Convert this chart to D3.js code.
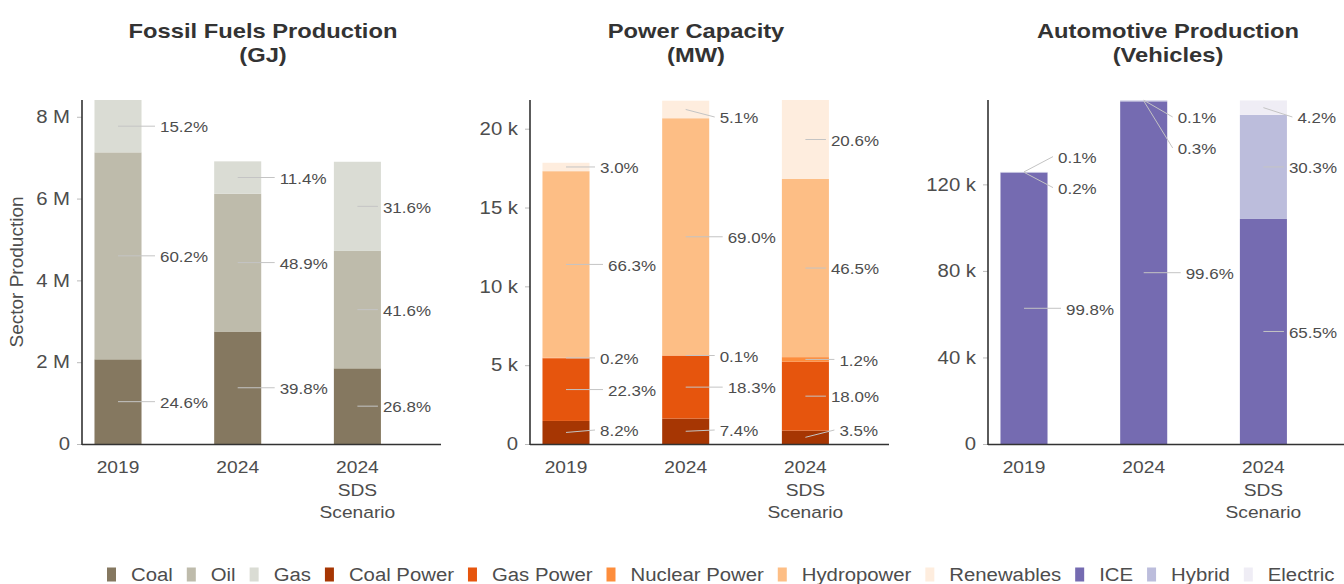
<!DOCTYPE html>
<html><head><meta charset="utf-8">
<script src="https://cdn.jsdelivr.net/npm/d3@7"></script>
<style>
body{margin:0;background:#fff;}
svg text{font-family:"Liberation Sans", Arial, Helvetica, sans-serif;}
</style></head><body>
<svg id="chart" width="1344" height="584"></svg>
<script>
// ---------- DATA ----------
const categories = ["2019", "2024", "2024 SDS"];
const categoryLines = [["2019"], ["2024"], ["2024", "SDS", "Scenario"]];

// Fossil fuels production (GJ)
const fossilSeries = ["Coal", "Oil", "Gas"];
const fossilCoal = [2070000, 2750000, 1850000];
const fossilOil  = [5060000, 3370000, 2870000];
const fossilGas  = [1280000,  790000, 2180000];
const fossilCoalPct = ["24.6%", "39.8%", "26.8%"];
const fossilOilPct  = ["60.2%", "48.9%", "41.6%"];
const fossilGasPct  = ["15.2%", "11.4%", "31.6%"];
const fossilTicks = [0, 2000000, 4000000, 6000000, 8000000];
const fossilTickLabels = ["0", "2 M", "4 M", "6 M", "8 M"];

// Power capacity (MW)
const powerSeries = ["Coal Power", "Gas Power", "Nuclear Power", "Hydropower", "Renewables"];
const powerCoal    = [1463, 1613, 850];
const powerGas     = [3978, 3989, 4370];
const powerNuclear = [36, 22, 290];
const powerHydro   = [11828, 15040, 11300];
const powerRenew   = [535, 1112, 5010];
const powerCoalPct    = ["8.2%", "7.4%", "3.5%"];
const powerGasPct     = ["22.3%", "18.3%", "18.0%"];
const powerNuclearPct = ["0.2%", "0.1%", "1.2%"];
const powerHydroPct   = ["66.3%", "69.0%", "46.5%"];
const powerRenewPct   = ["3.0%", "5.1%", "20.6%"];
const powerTicks = [0, 5000, 10000, 15000, 20000];
const powerTickLabels = ["0", "5 k", "10 k", "15 k", "20 k"];

// Automotive production (vehicles)
const autoSeries = ["ICE", "Hybrid", "Electric"];
const autoICE      = [125450, 158360, 104010];
const autoHybrid   = [250, 477, 48120];
const autoElectric = [126, 159, 6670];
const autoICEPct      = ["99.8%", "99.6%", "65.5%"];
const autoHybridPct   = ["0.2%", "0.3%", "30.3%"];
const autoElectricPct = ["0.1%", "0.1%", "4.2%"];
const autoTicks = [0, 40000, 80000, 120000];
const autoTickLabels = ["0", "40 k", "80 k", "120 k"];

const titles = [["Fossil Fuels Production", "(GJ)"], ["Power Capacity", "(MW)"], ["Automotive Production", "(Vehicles)"]];

const fossilColors = ["#857860", "#bebbab", "#dadcd4"];
const powerColors  = ["#a63603", "#e6550d", "#fd8d3c", "#fdbe85", "#feedde"];
const autoColors   = ["#756bb1", "#bcbddc", "#efedf5"];

// ---------- LAYOUT ----------
const SX = 1.13;              // horizontal text stretch
const TOP = 100, BOTTOM = 444, PW = 359;
const panelLeft = [82, 530, 988];
const titleX = [263, 696, 1168];
const TEXT = "#4d4d4d";

const svg = d3.select("#chart");

const panels = [
  {series: fossilSeries, values: [fossilCoal, fossilOil, fossilGas],
   pcts: [fossilCoalPct, fossilOilPct, fossilGasPct], colors: fossilColors,
   ticks: fossilTicks, tickLabels: fossilTickLabels},
  {series: powerSeries, values: [powerCoal, powerGas, powerNuclear, powerHydro, powerRenew],
   pcts: [powerCoalPct, powerGasPct, powerNuclearPct, powerHydroPct, powerRenewPct], colors: powerColors,
   ticks: powerTicks, tickLabels: powerTickLabels},
  {series: autoSeries, values: [autoICE, autoHybrid, autoElectric],
   pcts: [autoICEPct, autoHybridPct, autoElectricPct], colors: autoColors,
   ticks: autoTicks, tickLabels: autoTickLabels}
];

function stext(g, x, y, str, opts) {
  const t = g.append("text")
    .attr("transform", `translate(${x},${y}) scale(${SX},1)`)
    .attr("text-anchor", opts.anchor || "start")
    .attr("font-size", opts.size)
    .attr("font-weight", opts.weight || "normal")
    .attr("fill", opts.fill || TEXT)
    .text(str);
  if (opts.dy) t.attr("dy", opts.dy);
  return t;
}

function repel(items, gap, lo, hi) {
  items.sort((a, b) => a.ty - b.ty);
  items.forEach(d => d.y = Math.max(lo, Math.min(hi, d.ty)));
  for (let it = 0; it < 400; it++) {
    for (let i = 0; i < items.length - 1; i++) {
      const a = items[i], b = items[i + 1];
      const ov = gap - (b.y - a.y);
      if (ov > 0) { a.y -= ov / 2; b.y += ov / 2; }
    }
    items.forEach(d => d.y = Math.max(lo, Math.min(hi, d.y)));
  }
}

panels.forEach((p, pi) => {
  const L = panelLeft[pi];
  const g = svg.append("g");

  const rows = categories.map((c, ci) => {
    const r = {cat: c};
    p.series.forEach((s, si) => r[s] = p.values[si][ci]);
    return r;
  });
  const stacked = d3.stack().keys(p.series)(rows);
  const totals = rows.map(r => d3.sum(p.series, s => r[s]));

  const x = d3.scaleBand().domain(categories)
    .range([L - 23.85, L - 23.85 + 359.1]).paddingInner(0.607).paddingOuter(0.3035);
  const y = d3.scaleLinear().domain([0, d3.max(totals)]).range([BOTTOM, TOP]);

  // title
  titles[pi].forEach((line, li) =>
    stext(g, titleX[pi], 38 + li * 24, line, {anchor: "middle", size: 21, weight: "bold", fill: "#333"}));

  // y axis ticks
  const ax = g.append("g").attr("transform", `translate(${L},0)`)
    .call(d3.axisLeft(y).tickValues(p.ticks).tickFormat((d, i) => p.tickLabels[i]).tickSize(5).tickPadding(5.6));
  ax.select(".domain").remove();
  ax.selectAll(".tick line").attr("stroke", "#bbb");
  ax.selectAll(".tick text").attr("font-size", 18).attr("fill", TEXT)
    .attr("font-family", "Liberation Sans, Arial, sans-serif")
    .attr("transform", `scale(${SX},1)`);

  // bars
  stacked.forEach((layer, si) => {
    g.append("g").selectAll("rect").data(layer).join("rect")
      .attr("x", d => x(d.data.cat))
      .attr("width", x.bandwidth())
      .attr("y", d => y(d[1]))
      .attr("height", d => y(d[0]) - y(d[1]))
      .attr("fill", p.colors[si]);
  });

  // axis lines
  g.append("line").attr("x1", L).attr("x2", L).attr("y1", TOP).attr("y2", BOTTOM + 1)
    .attr("stroke", "#333").attr("stroke-width", 1.6);
  g.append("line").attr("x1", L).attr("x2", L + PW).attr("y1", BOTTOM + 0.5).attr("y2", BOTTOM + 0.5)
    .attr("stroke", "#333").attr("stroke-width", 1.6);

  // x labels
  categories.forEach((c, ci) => {
    const cx = x(c) + x.bandwidth() / 2;
    categoryLines[ci].forEach((line, li) =>
      stext(g, cx, 473 + li * 22.5, line, {anchor: "middle", size: 17}));
  });

  // percentage labels with leader lines
  const lg = g.append("g");
  categories.forEach((c, ci) => {
    const cx = x(c) + x.bandwidth() / 2;
    const items = stacked.map((layer, si) => ({
      ty: y((layer[ci][0] + layer[ci][1]) / 2),
      label: p.pcts[si][ci]
    }));
    repel(items, 31, 117, 430);
    items.forEach(d => {
      const line = lg.append("line").attr("stroke", "#c4c4c4").attr("stroke-width", 1);
      const t = stext(lg, 0, 0, d.label, {size: 15, dy: "0.35em"});
      const w = t.node().getComputedTextLength() * SX;
      let xs = cx + (d.label.length >= 5 ? 42 : 34);
      if (xs + w > L + PW - 10) xs = L + PW - 10 - w;
      t.attr("transform", `translate(${xs},${d.y + 1}) scale(${SX},1)`);
      line.attr("x1", cx).attr("y1", d.ty).attr("x2", xs - 5).attr("y2", d.y);
    });
  });
});

// y axis title
svg.append("text")
  .attr("transform", "translate(23,272) rotate(-90)")
  .attr("text-anchor", "middle").attr("font-size", 19).attr("fill", TEXT)
  .text("Sector Production");

// legend
const legendNames = [...fossilSeries, ...powerSeries, ...autoSeries];
const legendColors = [...fossilColors, ...powerColors, ...autoColors];
const leg = svg.append("g");
let lx = 107;
legendNames.forEach((n, i) => {
  leg.append("rect").attr("x", lx).attr("y", 567.5).attr("width", 9).attr("height", 14)
    .attr("fill", legendColors[i]);
  const t = stext(leg, lx + 24, 581, n, {size: 18});
  lx += 24 + t.node().getComputedTextLength() * SX + 14;
});
</script>
</body></html>
